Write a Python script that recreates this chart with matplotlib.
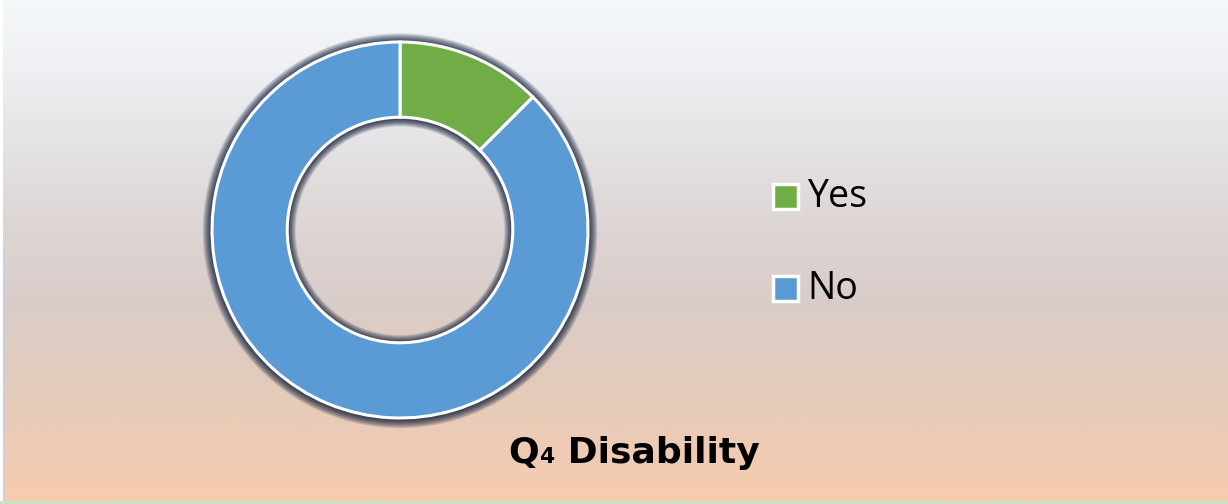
import numpy as np
import matplotlib
matplotlib.use("Agg")
import matplotlib.pyplot as plt
from matplotlib.patches import Wedge, Rectangle

categories = ["Yes", "No"]
values = [12.5, 87.5]
colors = ["#70ad47", "#5b9bd5"]
title_main = "Q"
title_sub = "4"
title_rest = " Disability"

W, H = 1228, 504
fig = plt.figure(figsize=(W / 100, H / 100), dpi=100)

# background overlay axes in pixel coordinates
bg = fig.add_axes([0, 0, 1, 1])
bg.set_xlim(0, W)
bg.set_ylim(H, 0)
bg.axis("off")
stops_y = [0, 60, 120, 200, 300, 400, 504]
stops_c = np.array([(245, 248, 250), (239, 241, 244), (231, 231, 234), (223, 217, 217),
                    (217, 205, 201), (229, 203, 186), (248, 203, 175)]) / 255.0
ys = np.arange(H)
grad = np.stack([np.interp(ys, stops_y, stops_c[:, k]) for k in range(3)], axis=1)
img = np.repeat(grad[:, None, :], 4, axis=1)
bg.imshow(img, extent=(3, W, H - 2, 0), aspect="auto", zorder=0)
bg.add_patch(Rectangle((2.5, 250), 1.5, H - 250, color="#c8d0ee", alpha=0.5, zorder=1))
bg.add_patch(Rectangle((0, H - 3), W, 3, color="#cbe2c4", zorder=1))

# legend
leg_y = [196, 288]
for cat, col, y in zip(categories, colors, leg_y):
    bg.add_patch(Rectangle((773, y - 12.5), 25, 25, facecolor=col, edgecolor="white",
                           linewidth=2.5, zorder=3))
    bg.text(807, y + 1, cat, fontsize=27, family="Open Sans", va="center", ha="left",
            color="black", zorder=3)

# title with subscript
fig.canvas.draw()
r = fig.canvas.get_renderer()
fs = 26
t1 = bg.text(0, 0, title_main, fontsize=fs, fontweight="bold", family="DejaVu Sans")
t2 = bg.text(0, 0, title_sub, fontsize=fs * 0.6, fontweight="bold", family="DejaVu Sans")
t3 = bg.text(0, 0, title_rest, fontsize=fs, fontweight="bold", family="DejaVu Sans")
w1 = t1.get_window_extent(r).width
w2 = t2.get_window_extent(r).width
w3 = t3.get_window_extent(r).width
total = w1 + w2 + w3
x0 = 634 - total / 2
base = 463
t1.set_position((x0, base)); t1.set_va("baseline")
t2.set_position((x0 + w1 + 1, base)); t2.set_va("baseline")
t3.set_position((x0 + w1 + w2, base)); t3.set_va("baseline")

# donut
R = 188.0
lim = 1.25
side = 2 * lim * R
cx, cy = 400, H - 230
ax = fig.add_axes([(cx - side / 2) / W, (cy - side / 2) / H, side / W, side / H])
ax.set_xlim(-lim, lim)
ax.set_ylim(-lim, lim)
ax.set_aspect("equal")
ax.axis("off")

inner = 0.6
n = 14
# outer shadow (annuli)
for i in range(n):
    rr = 1.0 + 0.05 * ((i + 1) / n) ** 1.3
    ax.add_patch(Wedge((0.0, -0.004), rr, 0, 360, width=rr - 0.99, color="#17233d",
                       alpha=0.13, lw=0, zorder=1))
# inner shadow
for i in range(n):
    rr = inner - 0.045 * ((i + 1) / n) ** 1.3
    ax.add_patch(Wedge((0, -0.004), inner + 0.01, 0, 360, width=inner + 0.01 - rr,
                       color="#17233d", alpha=0.13, lw=0, zorder=1))
ax.pie(values, colors=colors, startangle=90, counterclock=False, radius=1.0,
       wedgeprops=dict(width=1.0 - inner, edgecolor="white", linewidth=2.2))
for p in ax.patches[-2:]:
    p.set_zorder(3)

fig.savefig("out.png", dpi=100)
